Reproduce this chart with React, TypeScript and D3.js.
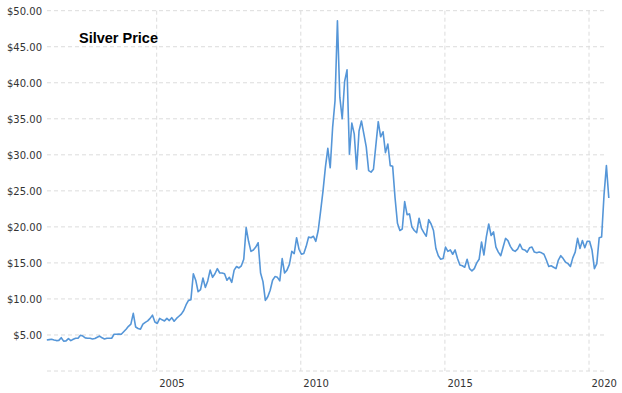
import React from 'react';
import * as d3 from 'd3';

const title = 'Silver Price';

// monthly closes, first point is March 2001
const firstYear = 2001;
const firstMonth = 2;

const p2001 = [4.3, 4.35, 4.4, 4.3, 4.22, 4.25, 4.62, 4.15, 4.18, 4.5];
const p2002 = [4.22, 4.4, 4.55, 4.55, 4.95, 4.85, 4.6, 4.55, 4.55, 4.45, 4.5, 4.68];
const p2003 = [4.85, 4.6, 4.45, 4.55, 4.55, 4.55, 5.1, 5.1, 5.12, 5.1, 5.45, 5.8];
const p2004 = [6.2, 6.5, 8.0, 6.1, 5.9, 5.8, 6.5, 6.75, 6.95, 7.3, 7.75, 6.8];
const p2005 = [6.6, 7.3, 7.1, 6.95, 7.3, 7.0, 7.4, 6.9, 7.3, 7.6, 7.9, 8.4];
const p2006 = [9.2, 9.8, 9.9, 13.5, 12.6, 11.0, 11.3, 12.9, 11.6, 12.5, 14.0, 13.0];
const p2007 = [13.5, 14.2, 13.6, 13.6, 13.5, 12.6, 13.0, 12.3, 14.0, 14.5, 14.3, 14.6];
const p2008 = [15.5, 19.9, 18.0, 16.6, 16.8, 17.2, 17.8, 13.6, 12.4, 9.8, 10.3, 11.2];
const p2009 = [12.6, 13.1, 13.0, 12.5, 15.6, 13.6, 14.0, 14.8, 16.6, 16.3, 18.5, 16.9];
const p2010 = [16.2, 16.3, 17.3, 18.6, 18.5, 18.7, 18.0, 19.5, 22.2, 25.0, 28.3, 30.9];
const p2011 = [28.2, 33.8, 37.5, 48.6, 38.0, 35.0, 40.2, 41.8, 30.1, 34.4, 32.9, 28.0];
const p2012 = [33.3, 34.7, 32.9, 31.1, 27.8, 27.6, 28.0, 31.3, 34.6, 32.5, 33.2, 30.3];
const p2013 = [31.5, 28.5, 28.4, 24.0, 20.5, 19.5, 19.7, 23.5, 21.7, 21.8, 20.0, 19.5];
const p2014 = [19.2, 21.2, 19.8, 19.2, 18.7, 21.0, 20.4, 19.5, 17.0, 16.0, 15.5, 15.6];
const p2015 = [17.2, 16.6, 16.8, 16.2, 16.8, 15.6, 14.7, 14.6, 14.4, 15.5, 14.2, 13.9];
const p2016 = [14.2, 15.0, 15.5, 17.9, 16.1, 18.6, 20.4, 18.8, 19.3, 17.2, 16.5, 16.0];
const p2017 = [17.2, 18.4, 18.1, 17.3, 16.8, 16.6, 16.9, 17.6, 16.9, 16.8, 16.5, 17.1];
const p2018 = [17.2, 16.5, 16.4, 16.5, 16.4, 16.2, 15.4, 14.5, 14.6, 14.4, 14.2, 15.4];
const p2019 = [16.0, 15.6, 15.1, 14.9, 14.5, 15.7, 16.5, 18.4, 17.0, 18.1, 17.1, 18.0];
const p2020 = [18.0, 16.8, 14.2, 14.9, 18.5, 18.6, 24.4, 28.5, 24.0];

const prices = [
  ...p2001, ...p2002, ...p2003, ...p2004, ...p2005,
  ...p2006, ...p2007, ...p2008, ...p2009, ...p2010,
  ...p2011, ...p2012, ...p2013, ...p2014, ...p2015,
  ...p2016, ...p2017, ...p2018, ...p2019, ...p2020,
];

const yTicks = [0, 5, 10, 15, 20, 25, 30, 35, 40, 45, 50];
const yearTicks = [2005, 2010, 2015, 2020];

const width = 622;
const height = 393;

export default function App() {
  const x = d3.scaleLinear().domain([2005, 2020]).range([156.7, 589]);
  const y = d3.scaleLinear().domain([0, 50]).range([371, 10.7]);

  const gridLeft = 47;
  const gridRight = 606;

  const points = prices.map((v, i) => ({
    t: firstYear + (firstMonth + i + 0.25) / 12,
    v,
  }));

  const line = d3.line<{ t: number; v: number }>()
    .x(d => x(d.t))
    .y(d => y(d.v));

  return (
    <div style={{ position: 'absolute', left: 0, top: 0 }}>
      <svg width={width} height={height} style={{ display: 'block', background: '#fff' }}>
        {/* horizontal grid */}
        {yTicks.map(t => (
          <line key={'h' + t} x1={gridLeft} x2={gridRight} y1={y(t)} y2={y(t)}
            stroke="#dcdcdc" strokeWidth={1} strokeDasharray="4,3" />
        ))}
        {/* vertical grid */}
        {yearTicks.map(yr => (
          <line key={'v' + yr} x1={x(yr)} x2={x(yr)} y1={y(50)} y2={y(0)}
            stroke="#dcdcdc" strokeWidth={1} strokeDasharray="4,3" />
        ))}

        {/* y labels */}
        {yTicks.filter(t => t > 0).map(t => (
          <text key={'yl' + t} x={42} y={y(t) + 4} textAnchor="end"
            fontFamily="DejaVu Sans, Verdana, sans-serif" fontSize={10} fill="#333">
            {'$' + t.toFixed(2)}
          </text>
        ))}

        {/* x labels */}
        {yearTicks.map(yr => (
          <text key={'xl' + yr} x={x(yr) + 2.5} y={387}
            fontFamily="DejaVu Sans, Verdana, sans-serif" fontSize={10} fill="#333">
            {yr}
          </text>
        ))}

        <path d={line(points) || ''} fill="none" stroke="#5596d8" strokeWidth={1.6}
          strokeLinejoin="round" />

        <text x={79} y={43} fontFamily="Liberation Sans, Arial, sans-serif"
          fontWeight="bold" fontSize={14.5} fill="#000">
          {title}
        </text>
      </svg>
    </div>
  );
}
